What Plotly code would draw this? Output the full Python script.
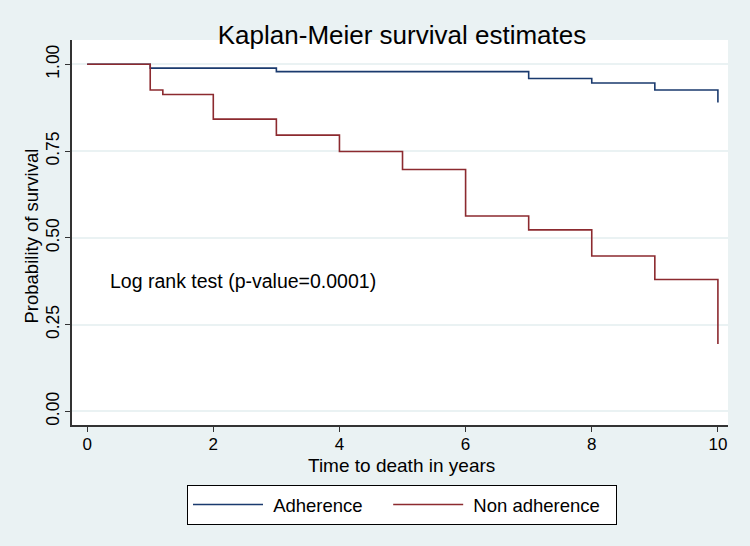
import plotly.graph_objects as go

adh_time = [0, 1, 3, 7, 8, 9, 10]
adh_surv = [1.0, 0.989, 0.979, 0.959, 0.946, 0.926, 0.89]
non_time = [0, 1, 1.2, 2, 3, 4, 5, 6, 7, 8, 9, 10]
non_surv = [1.0, 0.926, 0.913, 0.842, 0.796, 0.749, 0.697, 0.563, 0.523, 0.448, 0.380, 0.194]
x_ticks = [0, 2, 4, 6, 8, 10]
y_ticks = [0.0, 0.25, 0.5, 0.75, 1.0]

BG = "#EAF2F3"
FONT = "Liberation Sans, Arial, sans-serif"
NB = "\u00a0"

fig = go.Figure()
fig.add_trace(go.Scatter(x=adh_time, y=adh_surv, mode="lines", line_shape="hv",
                         name=NB + "Adherence" + NB * 4, line=dict(color="#1a3a6e", width=1.6)))
fig.add_trace(go.Scatter(x=non_time, y=non_surv, mode="lines", line_shape="hv",
                         name=NB + "Non adherence" + NB * 2, line=dict(color="#8c2a2f", width=1.6)))

fig.add_annotation(x=0.33, y=0.377, xref="x", yref="y", text="Log rank test (p-value=0.0001)",
                   showarrow=False, xanchor="left", yanchor="middle",
                   font=dict(size=19.5, color="black", family=FONT))
# axis titles
fig.add_annotation(x=(401.5 - 72) / 656, y=(425 - 466) / 385, xref="paper", yref="paper",
                   text="Time to death in years", showarrow=False,
                   xanchor="center", yanchor="middle", font=dict(size=19, color="black", family=FONT))
fig.add_annotation(x=(31 - 72) / 656, y=(425 - 236.5) / 385, xref="paper", yref="paper",
                   text="Probability of survival", showarrow=False, textangle=-90,
                   xanchor="center", yanchor="middle", font=dict(size=18.5, color="black", family=FONT))

fig.update_layout(
    width=750, height=546,
    paper_bgcolor=BG, plot_bgcolor="white",
    margin=dict(l=72, r=22, t=40, b=121),
    font=dict(family=FONT, color="black"),
    title=dict(text="Kaplan-Meier survival estimates", x=402/750, xanchor="center",
               y=1 - 35/546, yanchor="middle", font=dict(size=26, color="black", family=FONT)),
    showlegend=True,
    legend=dict(orientation="h", x=(402 - 72) / 656, xanchor="center", y=-60/385, yanchor="top",
                bgcolor="white", bordercolor="black", borderwidth=1,
                font=dict(size=18.5, color="black", family=FONT), itemwidth=70),
)
fig.update_xaxes(range=[-0.24, 10.16], tickvals=x_ticks, ticks="outside", ticklen=5,
                 tickcolor="#333", showline=True, linecolor="#333", linewidth=1.5,
                 showgrid=False, zeroline=False, tickfont=dict(size=17), ticklabelstandoff=-2,
                 automargin=False)
fig.update_yaxes(range=[-0.039, 1.07], tickvals=y_ticks, tickformat=".2f", ticks="outside",
                 ticklen=5, tickcolor="#333", showline=True, linecolor="#333", linewidth=1.5,
                 showgrid=True, gridcolor=BG, gridwidth=1.5, zeroline=False,
                 tickangle=-90, tickfont=dict(size=17.5), ticklabelstandoff=-1, automargin=False)

fig.write_html("out.html", config={"displayModeBar": False},
               post_script="document.body.style.margin='0';document.body.style.background='%s';" % BG)
